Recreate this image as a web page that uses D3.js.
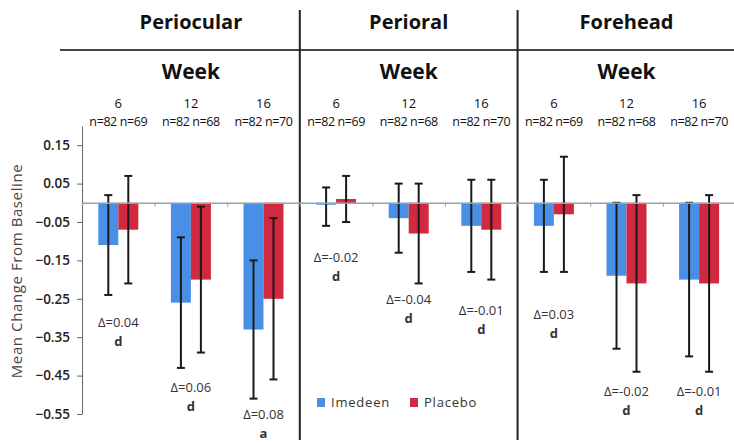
<!DOCTYPE html>
<html>
<head>
<meta charset="utf-8">
<script src="https://cdn.jsdelivr.net/npm/d3@7"></script>
<style>
  body { margin: 0; background: #fff; }
  svg { font-family: "Open Sans", sans-serif; }
</style>
</head>
<body>
<svg width="734" height="443"></svg>
<script>
var regions    = ['Periocular', 'Perioral', 'Forehead'],
    weeks      = [6, 12, 16],
    series     = ['Imedeen', 'Placebo'],
    colors     = ['#4a8fe6', '#d1293f'],
    nImedeen   = [82, 82, 82, 82, 82, 82, 82, 82, 82],
    nPlacebo   = [69, 68, 70, 69, 68, 70, 69, 68, 70],
    imedeen    = [-0.11, -0.26, -0.33, -0.005, -0.04, -0.06, -0.06, -0.19, -0.20],
    placebo    = [-0.07, -0.20, -0.25, 0.01, -0.08, -0.07, -0.03, -0.21, -0.21],
    imedeenHi  = [0.02, -0.09, -0.15, 0.04, 0.05, 0.06, 0.06, 0.00, 0.00],
    imedeenLo  = [-0.24, -0.43, -0.51, -0.06, -0.13, -0.18, -0.18, -0.38, -0.40],
    placeboHi  = [0.07, -0.01, -0.04, 0.07, 0.05, 0.06, 0.12, 0.02, 0.02],
    placeboLo  = [-0.21, -0.39, -0.46, -0.05, -0.21, -0.20, -0.18, -0.44, -0.44],
    deltas     = ['Δ=0.04', 'Δ=0.06', 'Δ=0.08', 'Δ=-0.02', 'Δ=-0.04', 'Δ=-0.01', 'Δ=0.03', 'Δ=-0.02', 'Δ=-0.01'],
    letters    = ['d', 'd', 'a', 'd', 'd', 'd', 'd', 'd', 'd'],
    deltaLevel = [-0.31, -0.48, -0.55, -0.14, -0.25, -0.28, -0.29, -0.49, -0.49],
    yTicks     = [0.15, 0.05, -0.05, -0.15, -0.25, -0.35, -0.45, -0.55];

var svg  = d3.select('svg'),
    cats = d3.range(regions.length * weeks.length);

var x = d3.scaleBand().domain(cats).range([82, 82 + 9 * 72.6]),
    bw = x.bandwidth(),
    xs = d3.scaleBand().domain(series).range([bw / 2 - 20, bw / 2 + 20]),
    y = d3.scaleLinear().domain([-0.55, 0.2]).range([414, 126]);

var rows = cats.map(function(i) {
  return {
    i: i,
    vals: [
      { s: series[0], v: imedeen[i], hi: imedeenHi[i], lo: imedeenLo[i] },
      { s: series[1], v: placebo[i], hi: placeboHi[i], lo: placeboLo[i] }
    ]
  };
});

// header
svg.append('line')
  .attr('x1', 60).attr('x2', 734).attr('y1', 50).attr('y2', 50)
  .attr('stroke', '#444').attr('stroke-width', 2);

regions.forEach(function(r, k) {
  var cx = x(k * 3 + 1) + bw / 2;
  svg.append('text').attr('x', cx).attr('y', 29).attr('text-anchor', 'middle')
    .attr('font-size', 20).attr('font-weight', 'bold').attr('fill', '#111').text(r);
  svg.append('text').attr('x', cx).attr('y', 79).attr('text-anchor', 'middle')
    .attr('font-size', 21).attr('font-weight', 'bold').attr('fill', '#111').text('Week');
});

var head = svg.append('g').selectAll('g').data(cats).enter().append('g')
  .attr('transform', function(i) { return 'translate(' + (x(i) + bw / 2) + ',0)'; });
head.append('text').attr('y', 108).attr('text-anchor', 'middle')
  .attr('font-size', 13).attr('fill', '#111')
  .text(function(i) { return weeks[i % 3]; });
head.append('text').attr('y', 126).attr('text-anchor', 'middle')
  .attr('font-size', 12.5).attr('letter-spacing', -0.4).attr('fill', '#111')
  .text(function(i) { return 'n=' + nImedeen[i] + ' n=' + nPlacebo[i]; });

// region dividers
[3, 6].forEach(function(i) {
  svg.append('line')
    .attr('x1', x(i)).attr('x2', x(i)).attr('y1', 10).attr('y2', 440)
    .attr('stroke', '#222').attr('stroke-width', 2);
});

// y axis
var yAxis = svg.append('g').attr('transform', 'translate(82,0)')
  .call(d3.axisLeft(y).tickValues(yTicks).tickFormat(d3.format('.2f')).tickSize(5).tickSizeOuter(0));
yAxis.select('.domain').attr('stroke', '#666');
yAxis.selectAll('.tick line').attr('stroke', '#666');
yAxis.selectAll('.tick text').attr('font-size', 13.5).attr('font-weight', 600).attr('fill', '#222')
  .attr('font-family', '"Open Sans", sans-serif').attr('x', -12);

svg.append('text')
  .attr('transform', 'translate(22,271) rotate(-90)')
  .attr('text-anchor', 'middle').attr('font-size', 15).attr('fill', '#444')
  .attr('letter-spacing', 0.6)
  .text('Mean Change From Baseline');

// bars
var grp = svg.append('g').selectAll('g').data(rows).enter().append('g')
  .attr('transform', function(d) { return 'translate(' + x(d.i) + ',0)'; });

grp.selectAll('rect').data(function(d) { return d.vals; }).enter().append('rect')
  .attr('x', function(d) { return xs(d.s); })
  .attr('width', xs.bandwidth())
  .attr('y', function(d) { return y(Math.max(0, d.v)); })
  .attr('height', function(d) { return Math.max(1.5, Math.abs(y(d.v) - y(0))); })
  .attr('fill', function(d, j) { return colors[j]; });

// zero line with category ticks
var zeroAxis = svg.append('g').attr('transform', 'translate(0,' + y(0) + ')')
  .call(d3.axisBottom(d3.scaleLinear().domain([0, 9]).range([82, 82 + 9 * 72.6]))
    .tickValues(d3.range(1, 9)).tickSize(4).tickFormat(''));
zeroAxis.select('.domain').attr('stroke', '#9aa4a8').attr('stroke-width', 1.5);
zeroAxis.selectAll('.tick line').attr('stroke', '#9aa4a8');

// error bars
var eb = grp.selectAll('g.err').data(function(d) { return d.vals; }).enter().append('g')
  .attr('class', 'err')
  .attr('transform', function(d) { return 'translate(' + (xs(d.s) + xs.bandwidth() / 2) + ',0)'; })
  .attr('stroke', '#1a1a1a').attr('stroke-width', 2);
eb.append('line').attr('y1', function(d) { return y(d.hi); }).attr('y2', function(d) { return y(d.lo); });
eb.append('line').attr('x1', -4).attr('x2', 4)
  .attr('y1', function(d) { return y(d.hi); }).attr('y2', function(d) { return y(d.hi); });
eb.append('line').attr('x1', -4).attr('x2', 4)
  .attr('y1', function(d) { return y(d.lo); }).attr('y2', function(d) { return y(d.lo); });

// delta annotations
grp.append('text')
  .attr('x', bw / 2).attr('y', function(d) { return y(deltaLevel[d.i]) + 5; })
  .attr('text-anchor', 'middle').attr('font-size', 13).attr('fill', '#333')
  .text(function(d) { return deltas[d.i]; });
grp.append('text')
  .attr('x', bw / 2).attr('y', function(d) { return y(deltaLevel[d.i]) + 24; })
  .attr('text-anchor', 'middle').attr('font-size', 13).attr('font-weight', 'bold').attr('fill', '#333')
  .text(function(d) { return letters[d.i]; });

// legend
var leg = svg.append('g').attr('transform', 'translate(317,398)')
  .selectAll('g').data(series).enter().append('g')
  .attr('transform', function(d, j) { return 'translate(' + (j * 93) + ',0)'; });
leg.append('rect').attr('width', 8).attr('height', 9)
  .attr('fill', function(d, j) { return colors[j]; });
leg.append('text').attr('x', 14).attr('y', 9)
  .attr('font-size', 13).attr('letter-spacing', 0.8).attr('fill', '#333')
  .text(function(d) { return d; });
</script>
</body>
</html>
